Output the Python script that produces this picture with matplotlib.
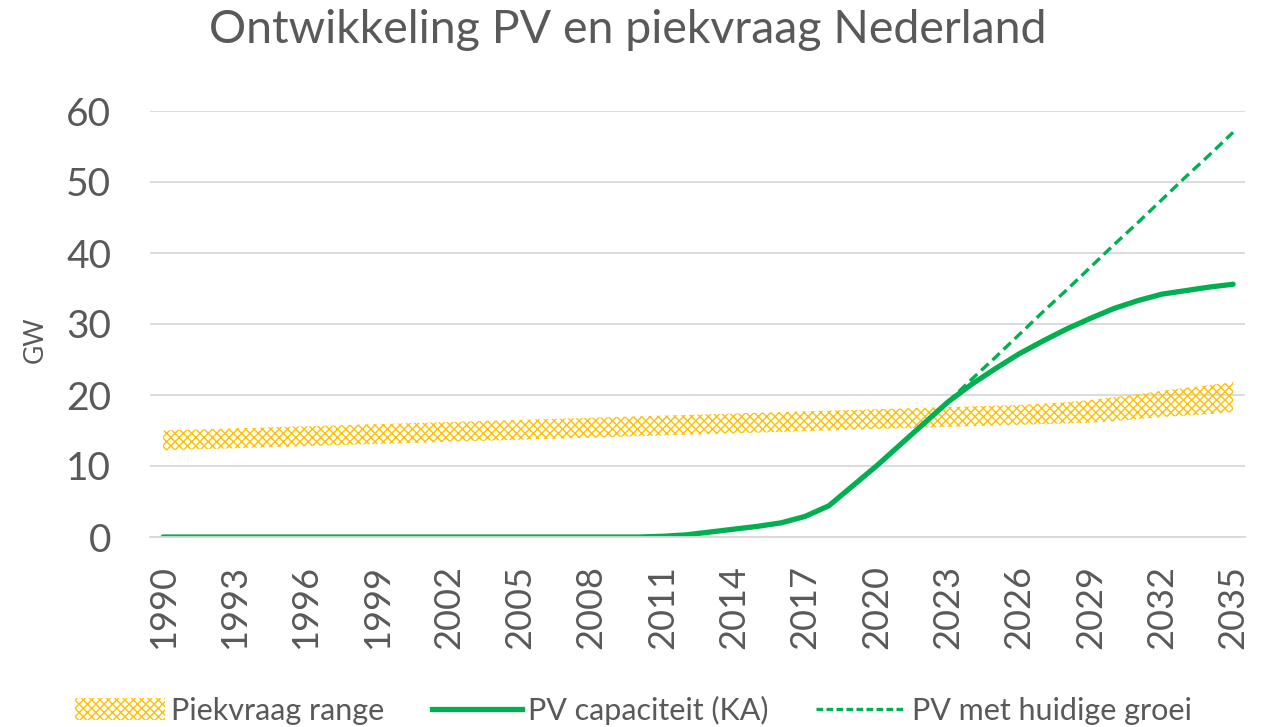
import matplotlib.pyplot as plt
import matplotlib.patches as mpatches
from matplotlib.lines import Line2D
import numpy as np

plt.rcParams['font.family'] = ['Lato', 'DejaVu Sans']
plt.rcParams['hatch.linewidth'] = 1.0

# Data
years = list(range(1990, 2036))
piek_laag = [12.2, 12.3, 12.4, 12.5, 12.6, 12.7, 12.8, 12.9, 13.0, 13.1,
             13.2, 13.3, 13.4, 13.5, 13.6, 13.7, 13.8, 13.9, 14.0, 14.1,
             14.2, 14.3, 14.4, 14.5, 14.6, 14.7, 14.8, 14.9, 15.0, 15.1,
             15.2, 15.3, 15.4, 15.5, 15.6, 15.7, 15.8, 15.9, 16.0, 16.1,
             16.3, 16.6, 16.9, 17.1, 17.3, 17.6]
piek_hoog = [15.0, 15.1, 15.2, 15.3, 15.4, 15.5, 15.6, 15.7, 15.8, 15.9,
             16.0, 16.1, 16.2, 16.3, 16.4, 16.5, 16.6, 16.7, 16.8, 16.9,
             17.0, 17.1, 17.2, 17.3, 17.4, 17.5, 17.6, 17.7, 17.8, 17.9,
             18.0, 18.1, 18.2, 18.3, 18.4, 18.5, 18.6, 18.8, 19.0, 19.3,
             19.7, 20.1, 20.6, 21.0, 21.4, 21.8]
pv_ka = [0, 0, 0, 0, 0, 0, 0, 0, 0, 0,
         0, 0, 0, 0, 0, 0, 0, 0, 0, 0,
         0, 0.1, 0.3, 0.7, 1.1, 1.5, 2.0, 2.9, 4.4, 7.2,
         10.0, 13.0, 16.0, 19.0, 21.5, 23.7, 25.8, 27.6, 29.3, 30.8,
         32.2, 33.3, 34.2, 34.7, 35.2, 35.6]
groei_jaren = list(range(2023, 2036))
pv_groei = [19.0, 22.2, 25.3, 28.5, 31.7, 34.8, 38.0, 41.2, 44.3, 47.5, 50.7, 53.8, 57.0]

geel = '#FFC000'
groen = '#00B050'
grijs = '#595959'

fig = plt.figure(figsize=(12.73, 7.27), dpi=100)
ax = fig.add_axes([150/1273, 1-537/727, (1245-150)/1273, (537-111)/727])

ax.fill_between(years, piek_laag, piek_hoog, facecolor='none', edgecolor=geel,
                hatch='xxxx', linewidth=0)
ax.plot(years, pv_ka, color=groen, lw=3.8, solid_capstyle='round')
ax.plot(groei_jaren, pv_groei, color=groen, lw=2.4, ls=(0, (3, 1.6)))

ax.set_xlim(1989.45, 2035.5)
ax.set_ylim(0, 60)
ax.set_yticks(range(0, 61, 10))
ax.set_xticks(years[::3])
ax.set_xticklabels([str(y) for y in years[::3]], rotation=90)
ax.tick_params(axis='y', length=0, labelsize=28, colors=grijs, pad=28)
ax.tick_params(axis='x', length=0, labelsize=26, colors=grijs, pad=20)
ax.grid(axis='y', color='#D9D9D9', lw=1.3)
ax.set_axisbelow(True)
for s in ['top', 'right', 'left']:
    ax.spines[s].set_visible(False)
ax.spines['bottom'].set_color('#D9D9D9')
ax.spines['bottom'].set_linewidth(1.3)

fig.text(35/1273, 1-340/727, 'GW', rotation=90, ha='center', va='center',
         fontsize=19, color=grijs)
fig.text(628/1273, 1-30/727, 'Ontwikkeling PV en piekvraag Nederland', ha='center',
         va='center', fontsize=33.5, color=grijs)

handles = [mpatches.Patch(facecolor='none', edgecolor=geel, hatch='xxxx', lw=0),
           Line2D([], [], color=groen, lw=3.8),
           Line2D([], [], color=groen, lw=2.4, ls=(0, (2, 1)))]
labels = ['Piekvraag range', 'PV capaciteit (KA)', 'PV met huidige groei']
fig.legend(handles, labels, loc='center left', bbox_to_anchor=(75/1273, 1-710/727),
           ncol=3, frameon=False, fontsize=22, labelcolor=grijs, handlelength=2.95,
           columnspacing=1.55, handletextpad=0.2, borderpad=0, borderaxespad=0)

fig.savefig('out.png', dpi=100)
